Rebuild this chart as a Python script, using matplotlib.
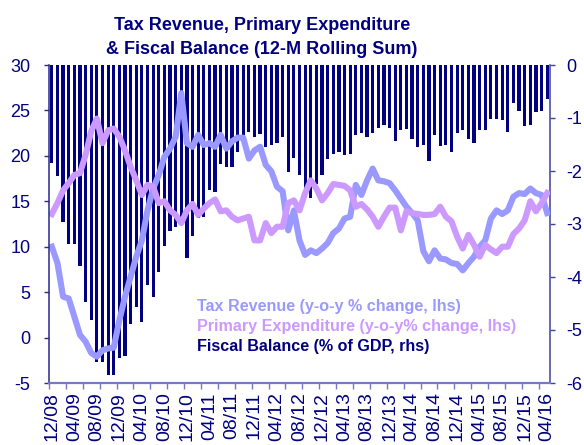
import numpy as np
import matplotlib
matplotlib.use("Agg")
import matplotlib.pyplot as plt

plt.rcParams["font.family"] = ["Liberation Sans", "DejaVu Sans"]
plt.rcParams["axes.unicode_minus"] = False

NAVY = "#000080"
TAX_COLOR = "#9999FF"
EXP_COLOR = "#CC99FF"

# monthly data, 12/08 .. 04/16
tick_labels = ["12/08", "04/09", "08/09", "12/09", "04/10", "08/10", "12/10",
               "04/11", "08/11", "12/11", "04/12", "08/12", "12/12", "04/13",
               "08/13", "12/13", "04/14", "08/14", "12/14", "04/15", "08/15",
               "12/15", "04/16"]

tax_revenue = [10.0, 8.2, 4.5, 4.3, 2.3, 0.3, -0.45, -1.7, -2.1, -1.4,
               -1.2, -1.1, 1.9, 4.5, 6.7, 8.9, 10.7, 14.0, 16.4, 17.9,
               19.9, 20.8, 22.1, 26.9, 21.4, 21.0, 22.3, 21.2, 21.4, 21.0,
               22.3, 20.8, 21.6, 22.0, 22.0, 19.7, 20.6, 21.0, 19.0, 18.3,
               16.6, 16.1, 11.8, 14.0, 10.7, 9.1, 9.6, 9.3, 9.8, 10.4,
               11.5, 12.0, 13.1, 13.3, 16.8, 15.7, 17.3, 18.6, 17.3, 17.2,
               17.0, 16.2, 15.3, 14.4, 13.7, 12.9, 9.5, 8.4, 9.6, 8.7,
               8.6, 8.2, 8.1, 7.4, 8.2, 8.9, 10.0, 10.7, 13.1, 14.0,
               13.6, 14.0, 15.5, 15.9, 15.8, 16.4, 15.9, 15.7, 13.7]

primary_exp = [13.6, 14.8, 16.2, 17.0, 17.9, 18.1, 20.1, 22.7, 24.1, 21.4,
               22.8, 23.0, 22.1, 20.6, 18.8, 17.3, 15.7, 16.8, 16.6, 14.8,
               15.0, 14.0, 13.5, 12.6, 14.0, 14.7, 13.5, 14.2, 14.8, 15.2,
               13.9, 14.0, 13.3, 12.9, 13.1, 13.3, 10.7, 10.7, 12.6, 11.5,
               12.2, 12.2, 14.8, 15.1, 14.0, 15.9, 17.3, 16.4, 15.1, 15.9,
               16.9, 16.8, 16.7, 16.2, 14.4, 14.7, 14.1, 13.3, 12.2, 13.3,
               14.3, 14.3, 11.8, 13.9, 13.7, 13.6, 13.5, 13.5, 13.6, 14.4,
               13.3, 12.8, 11.1, 9.8, 11.3, 10.2, 8.9, 10.2, 9.7, 9.3,
               10.0, 10.0, 11.4, 12.0, 12.9, 15.0, 13.9, 14.8, 15.9]

fiscal_balance = [-1.84, -2.09, -2.97, -3.38, -3.38, -3.79, -4.48, -4.81, -5.61, -5.61,
                  -5.85, -5.84, -5.53, -5.49, -4.89, -4.56, -4.85, -4.16, -4.38, -3.90,
                  -3.42, -3.13, -3.05, -2.95, -3.65, -3.23, -2.89, -2.86, -2.36, -2.40,
                  -1.86, -1.92, -1.92, -1.65, -1.38, -1.27, -1.36, -1.30, -1.55, -1.51,
                  -1.47, -1.35, -2.01, -1.76, -2.08, -2.33, -2.50, -2.25, -2.08, -1.77,
                  -1.67, -1.65, -1.69, -1.67, -1.32, -1.28, -1.36, -1.28, -1.19, -1.13,
                  -1.19, -1.43, -1.23, -1.21, -1.40, -1.55, -1.51, -1.82, -1.32, -1.53,
                  -1.51, -1.65, -1.29, -1.23, -1.40, -1.48, -1.23, -1.23, -1.01, -1.01,
                  -1.04, -1.26, -0.72, -0.87, -1.16, -1.13, -0.88, -0.86, -0.65]

series_names = ["Tax Revenue (y-o-y % change, lhs)",
                "Primary Expenditure (y-o-y% change, lhs)",
                "Fiscal Balance (% of GDP, rhs)"]
series_colors = [TAX_COLOR, EXP_COLOR, NAVY]

x = np.arange(len(fiscal_balance))

fig = plt.figure(figsize=(5.84, 4.45), dpi=100)
ax = fig.add_axes([49 / 584, 1 - 383 / 445, 501 / 584, 318 / 445])
ax2 = ax.twinx()

# bars on the right axis, lines drawn on top
ax2.bar(x, fiscal_balance, width=0.57, color=NAVY, linewidth=0)
ax2.set_ylim(-6, 0)
ax.set_zorder(ax2.get_zorder() + 1)
ax.patch.set_visible(False)

ax.plot(x, tax_revenue, color=TAX_COLOR, lw=4.4, solid_joinstyle="round")
ax.plot(x, primary_exp, color=EXP_COLOR, lw=4.4, solid_joinstyle="round")

ax.set_ylim(-5, 30)
ax.set_yticks(range(-5, 31, 5))
ax.set_xlim(-0.5, len(x) - 0.5)
ax.set_xticks(x[::4])
ax.set_xticklabels(tick_labels, rotation=90)
ax.set_xticks(np.arange(-0.5, len(x), 3), minor=True)
ax.tick_params(axis="x", which="major", length=0, pad=6.5, labelsize=14, labelcolor=NAVY)
ax.tick_params(axis="x", which="minor", length=4.5, width=1, color="#7878C0", direction="out")
ax.tick_params(axis="y", length=3.5, width=1, color="#2A2A8A", pad=10, labelsize=13, labelcolor=NAVY)

ax2.set_yticks(range(-6, 1))
ax2.tick_params(axis="y", length=3.5, width=1, color="#4040A0", pad=8.5, labelsize=13, labelcolor=NAVY)

for a in (ax, ax2):
    a.spines["top"].set_visible(False)
ax.spines["right"].set_visible(False)
ax2.spines["left"].set_visible(False)
ax2.spines["bottom"].set_visible(False)
ax.spines["left"].set_color("#2A2A8A")
ax.spines["left"].set_linewidth(1.1)
ax.spines["bottom"].set_color("#7878C0")
ax.spines["bottom"].set_linewidth(1.6)
ax2.spines["right"].set_color("#4040A0")
ax2.spines["right"].set_linewidth(1.1)

# legend as coloured text
for k, (name, col) in enumerate(zip(series_names, series_colors)):
    fig.text(197 / 584, 1 - (311.5 + 19.5 * k) / 445, name, color=col,
             fontsize=11.6, fontweight="bold", va="baseline", ha="left")

fig.text(262 / 584, 1 - 30 / 445, "Tax Revenue, Primary Expenditure",
         color=NAVY, fontsize=13, fontweight="bold", ha="center", va="baseline")
fig.text(262 / 584, 1 - 54 / 445, "& Fiscal Balance (12-M Rolling Sum)",
         color=NAVY, fontsize=13, fontweight="bold", ha="center", va="baseline")

fig.savefig("out.png", dpi=100)
